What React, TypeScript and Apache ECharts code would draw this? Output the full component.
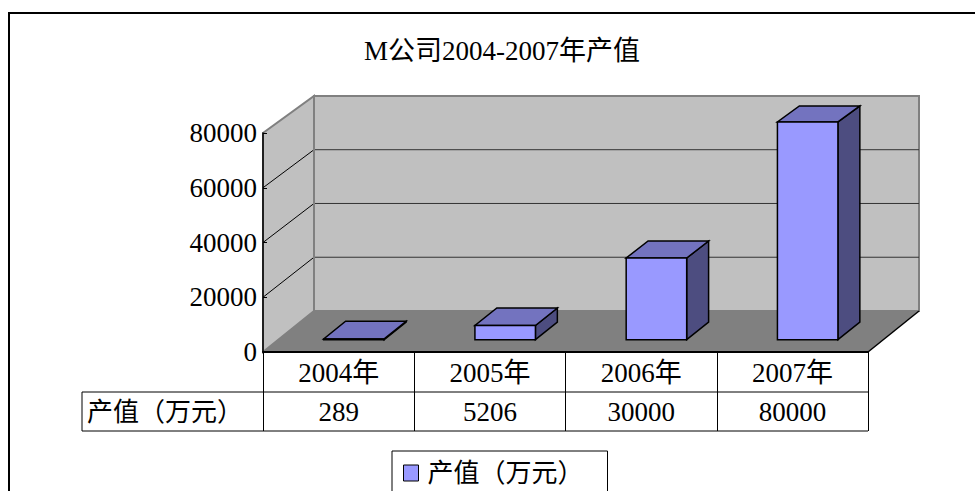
import React, { useEffect, useRef } from "react";
import * as echarts from "echarts";

const TITLE = "M公司2004-2007年产值";
const SERIES_NAME = "产值（万元）";
const ROW_HEADER = "产值（万元）";
const categories = ["2004年", "2005年", "2006年", "2007年"];
const values = [289, 5206, 30000, 80000];
const yTicks = [0, 20000, 40000, 60000, 80000];

const FONT = '"Liberation Serif", "Noto Sans CJK SC", serif';

export default function App() {
  const ref = useRef<HTMLDivElement>(null);

  useEffect(() => {
    document.body.style.margin = "0";
    const chart = echarts.init(ref.current!, null, { renderer: "svg" });

    const DX = 51;
    const DY = -41;
    const SHRINK = 0.018;
    const F0 = 0.3;
    const F1 = 0.73;
    const BAR_RATIO = 0.4;
    const yMax = yTicks[yTicks.length - 1];

    const proj = (x: number, y: number, yBase: number, f: number) => [
      x + f * DX,
      yBase + f * DY - (yBase - y) * (1 - SHRINK * f),
    ];

    const wallsRender = (params: any, api: any) => {
      const cs = params.coordSys;
      const x0 = cs.x;
      const x1 = cs.x + cs.width;
      const yb = api.coord([0, 0])[1];
      const P = (x: number, v: number, f: number) => proj(x, api.coord([0, v])[1], yb, f);
      const children: any[] = [
        {
          type: "polygon",
          shape: { points: [P(x0, 0, 1), P(x1, 0, 1), P(x1, yMax, 1), P(x0, yMax, 1)] },
          style: { fill: "#c0c0c0", stroke: "#808080", lineWidth: 2 },
        },
        {
          type: "polygon",
          shape: { points: [P(x0, 0, 0), P(x0, 0, 1), P(x0, yMax, 1), P(x0, yMax, 0)] },
          style: { fill: "#c0c0c0", stroke: "#808080", lineWidth: 2 },
        },
        {
          type: "polygon",
          shape: { points: [P(x0, 0, 0), P(x1, 0, 0), P(x1, 0, 1), P(x0, 0, 1)] },
          style: { fill: "#808080", stroke: "none" },
        },
      ];
      yTicks.forEach((v) => {
        if (v === 0 || v === yMax) return;
        const b0 = P(x0, v, 1);
        const b1 = P(x1, v, 1);
        const f0 = P(x0, v, 0);
        children.push({
          type: "line",
          shape: { x1: b0[0], y1: b0[1], x2: b1[0], y2: b1[1] },
          style: { stroke: "#333333", lineWidth: 1 },
        });
        children.push({
          type: "line",
          shape: { x1: f0[0], y1: f0[1], x2: b0[0], y2: b0[1] },
          style: { stroke: "#000000", lineWidth: 1 },
        });
      });
      const lb0 = P(x0, 0, 1);
      const lb1 = P(x0, yMax, 1);
      children.push({
        type: "line",
        shape: { x1: lb0[0], y1: lb0[1], x2: lb1[0], y2: lb1[1] },
        style: { stroke: "#808080", lineWidth: 2 },
      });
      const fr0 = P(x1, 0, 0);
      const fr1 = P(x1, 0, 1);
      children.push({
        type: "line",
        shape: { x1: fr0[0], y1: fr0[1], x2: fr1[0], y2: fr1[1] },
        style: { stroke: "#000000", lineWidth: 1.5 },
      });
      return { type: "group", children };
    };

    const barsRender = (params: any, api: any) => {
      const idx = api.value(0);
      const v = api.value(1);
      const base = api.coord([idx, 0]);
      const cx = base[0];
      const yb = base[1];
      const yv = api.coord([idx, v])[1];
      const bw = api.size([1, 0])[0] * BAR_RATIO;
      const xl = cx - bw / 2;
      const xr = cx + bw / 2;
      const Pt = (x: number, y: number, f: number) => proj(x, y, yb, f);
      const stroke = { stroke: "#000000", lineWidth: 1.5, lineJoin: "miter" };
      return {
        type: "group",
        children: [
          {
            type: "polygon",
            shape: { points: [Pt(xr, yb, F0), Pt(xr, yb, F1), Pt(xr, yv, F1), Pt(xr, yv, F0)] },
            style: { fill: "#4d4d80", ...stroke },
          },
          {
            type: "polygon",
            shape: { points: [Pt(xl, yv, F0), Pt(xr, yv, F0), Pt(xr, yv, F1), Pt(xl, yv, F1)] },
            style: { fill: "#7373bf", ...stroke },
          },
          {
            type: "polygon",
            shape: { points: [Pt(xl, yb, F0), Pt(xr, yb, F0), Pt(xr, yv, F0), Pt(xl, yv, F0)] },
            style: { fill: "#9999ff", ...stroke },
          },
        ],
      };
    };

    const option: any = {
      animation: false,
      backgroundColor: "#ffffff",
      textStyle: { fontFamily: FONT },
      title: {
        text: TITLE,
        left: 497,
        top: 32,
        textAlign: "center",
        textStyle: { fontSize: 27, fontWeight: "normal", color: "#000", fontFamily: FONT },
      },
      legend: {
        data: [SERIES_NAME],
        left: 392,
        top: 451,
        padding: [9, 24, 12, 11],
        backgroundColor: "#ffffff",
        borderColor: "#000000",
        borderWidth: 1,
        borderRadius: 0,
        icon: "rect",
        itemWidth: 15,
        itemHeight: 16,
        selectedMode: false,
        itemStyle: { color: "#9999ff", borderColor: "#000000", borderWidth: 1 },
        textStyle: { fontSize: 26, color: "#000", fontFamily: FONT, padding: [0, 0, 0, 4] },
      },
      grid: { left: 263, top: 133, width: 605, height: 219, containLabel: false },
      xAxis: [
        {
          type: "category",
          data: categories,
          z: 10,
          axisLine: { show: true, lineStyle: { color: "#000", width: 2 } },
          axisTick: { show: true, interval: 0, length: 79, lineStyle: { color: "#000", width: 1 } },
          axisLabel: { interval: 0, fontSize: 27, color: "#000", margin: 7, fontFamily: FONT },
          splitLine: { show: false },
        },
        {
          type: "category",
          data: values.map((v) => String(v)),
          position: "bottom",
          offset: 40,
          z: 10,
          axisLine: { show: false },
          axisTick: { show: false },
          axisLabel: { interval: 0, fontSize: 27, color: "#000", margin: 6, fontFamily: FONT },
          splitLine: { show: false },
        },
      ],
      yAxis: {
        type: "value",
        min: 0,
        max: yMax,
        interval: 20000,
        z: 10,
        axisLine: { show: true, lineStyle: { color: "#000", width: 1.5 } },
        axisTick: { show: true, inside: true, length: 4, lineStyle: { color: "#000" } },
        axisLabel: {
          fontSize: 27,
          color: "#000",
          margin: 6,
          fontFamily: FONT,
          formatter: (v: number) => String(v),
        },
        splitLine: { show: false },
      },
      graphic: [
        {
          type: "rect",
          shape: { x: 9, y: 13, width: 1000, height: 600 },
          style: { fill: "none", stroke: "#000", lineWidth: 2 },
          z: 100,
        },
        {
          type: "line",
          shape: { x1: 82, y1: 392, x2: 868, y2: 392 },
          style: { stroke: "#000", lineWidth: 1 },
        },
        {
          type: "line",
          shape: { x1: 82, y1: 431, x2: 868, y2: 431 },
          style: { stroke: "#000", lineWidth: 1 },
        },
        {
          type: "line",
          shape: { x1: 82, y1: 392, x2: 82, y2: 431 },
          style: { stroke: "#000", lineWidth: 1 },
        },
        {
          type: "text",
          style: {
            text: ROW_HEADER,
            x: 87,
            y: 412,
            fill: "#000",
            fontSize: 26,
            fontFamily: FONT,
            textAlign: "left",
            textVerticalAlign: "middle",
          },
        },
      ],
      series: [
        {
          type: "custom",
          name: "walls",
          z: 1,
          silent: true,
          renderItem: wallsRender,
          data: [[0, 0]],
          encode: { x: 0, y: 1 },
        },
        {
          type: "custom",
          name: SERIES_NAME,
          z: 2,
          itemStyle: { color: "#9999ff", borderColor: "#000", borderWidth: 1 },
          renderItem: barsRender,
          data: values.map((v, i) => [i, v]),
          encode: { x: 0, y: 1 },
        },
      ],
    };

    chart.setOption(option);
    return () => chart.dispose();
  }, []);

  return <div ref={ref} style={{ width: 975, height: 491 }} />;
}
